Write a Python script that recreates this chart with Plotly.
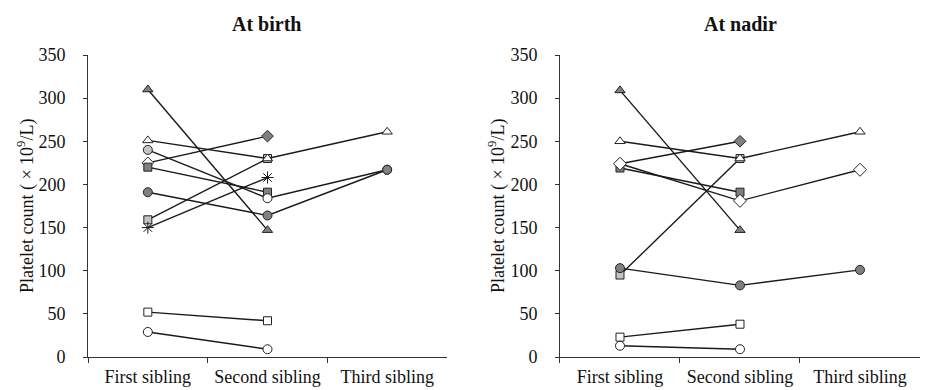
import plotly.graph_objects as go

categories = ["First sibling", "Second sibling", "Third sibling"]
y_ticks = [0, 50, 100, 150, 200, 250, 300, 350]

# ---- At birth (left panel) ----
birth_filled_triangle = [310, 147, None]
birth_hatched_square = [159, 230, None]
birth_open_triangle = [251, 230, 261]
birth_filled_diamond = [225, 256, None]
birth_filled_square = [220, 191, None]
birth_open_circle = [240, 184, 217]
birth_filled_circle = [191, 164, 217]
birth_asterisk = [150, 208, None]
birth_open_square = [52, 42, None]
birth_low_circle = [29, 9, None]

# ---- At nadir (right panel) ----
nadir_filled_triangle = [309, 147, None]
nadir_hatched_square = [95, 230, None]
nadir_open_triangle = [250, 230, 261]
nadir_filled_diamond = [224, 250, None]
nadir_filled_square = [219, 191, None]
nadir_open_diamond = [224, 181, 217]
nadir_filled_circle = [103, 83, 101]
nadir_open_square = [23, 38, None]
nadir_low_circle = [13, 9, None]

GREY = "#808080"
HATCH = "#c4c4c4"
WHITE = "#ffffff"
LINE = "#1a1a1a"

fig = go.Figure()


def add(vals, symbol, colors, size, xa, ya):
    fig.add_trace(go.Scatter(
        x=categories, y=vals, mode="lines+markers",
        line=dict(color=LINE, width=1.4),
        marker=dict(symbol=symbol, size=size, color=colors,
                    line=dict(color="#222222", width=1)),
        xaxis=xa, yaxis=ya, showlegend=False, cliponaxis=False,
    ))


# left
add(birth_filled_triangle, "triangle-up", GREY, 9, "x", "y")
add(birth_hatched_square, "square", HATCH, 8, "x", "y")
add(birth_open_triangle, "triangle-up", WHITE, 9, "x", "y")
add(birth_filled_diamond, "diamond", [WHITE, GREY, GREY], 9, "x", "y")
add(birth_filled_square, "square", GREY, 8, "x", "y")
add(birth_open_circle, "circle", [HATCH, WHITE, WHITE], 9, "x", "y")
add(birth_filled_circle, "circle", GREY, 9, "x", "y")
fig.add_trace(go.Scatter(
    x=categories, y=birth_asterisk, mode="lines+markers",
    line=dict(color=LINE, width=1.4),
    marker=dict(symbol="asterisk-open", size=10, line=dict(color="#222222", width=1)),
    xaxis="x", yaxis="y", showlegend=False, cliponaxis=False))
add(birth_open_square, "square", WHITE, 8, "x", "y")
add(birth_low_circle, "circle", WHITE, 9, "x", "y")

# right
add(nadir_filled_triangle, "triangle-up", GREY, 9, "x2", "y2")
add(nadir_hatched_square, "square", HATCH, 8, "x2", "y2")
add(nadir_open_triangle, "triangle-up", WHITE, 9, "x2", "y2")
add(nadir_filled_diamond, "diamond", [WHITE, GREY, GREY], 9, "x2", "y2")
add(nadir_filled_square, "square", GREY, 8, "x2", "y2")
add(nadir_open_diamond, "diamond", WHITE, 10, "x2", "y2")
add(nadir_filled_circle, "circle", GREY, 9, "x2", "y2")
add(nadir_open_square, "square", WHITE, 8, "x2", "y2")
add(nadir_low_circle, "circle", WHITE, 9, "x2", "y2")

FONT = '"Liberation Serif", "Times New Roman", serif'

xaxis_common = dict(
    type="category", range=[-0.5, 2.5], tickson="boundaries",
    ticks="outside", ticklen=5, tickcolor="#333", showline=True,
    linecolor="#333", linewidth=1, showgrid=False, zeroline=False,
    tickfont=dict(family=FONT, size=18, color="#111"), fixedrange=True,
    automargin=False, ticklabelstandoff=3,
)
yaxis_common = dict(
    range=[0, 350], tickvals=y_ticks, ticks="outside", ticklen=4,
    tickcolor="#333", showline=True, linecolor="#333", linewidth=1,
    showgrid=False, zeroline=False, ticklabelstandoff=14,
    tickfont=dict(family=FONT, size=18, color="#111"), automargin=False,
)

fig.update_layout(
    width=930, height=390,
    margin=dict(l=80, r=18, t=47, b=41, autoexpand=False),
    paper_bgcolor="white", plot_bgcolor="white",
    xaxis=dict(domain=[0, 0.4315], anchor="y", **xaxis_common),
    xaxis2=dict(domain=[0.5673, 1.0], anchor="y2", **xaxis_common),
    yaxis=dict(domain=[0, 1], anchor="x", **yaxis_common),
    yaxis2=dict(domain=[0, 1], anchor="x2", **yaxis_common),
    font=dict(family=FONT, color="#111"),
    annotations=[
        dict(text="<b>At birth</b>", x=0.2151, y=1.104, xref="paper", yref="paper",
             xanchor="center", yanchor="middle", showarrow=False,
             font=dict(family=FONT, size=20, color="#111")),
        dict(text="<b>At nadir</b>", x=0.7837, y=1.104, xref="paper", yref="paper",
             xanchor="center", yanchor="middle", showarrow=False,
             font=dict(family=FONT, size=20, color="#111")),
        dict(text="Platelet count ( × 10<sup>9</sup>/L)", x=-0.0745, y=0.5,
             xref="paper", yref="paper", xanchor="center", yanchor="middle",
             textangle=-90, showarrow=False,
             font=dict(family=FONT, size=18, color="#111")),
        dict(text="Platelet count ( × 10<sup>9</sup>/L)", x=0.4916, y=0.5,
             xref="paper", yref="paper", xanchor="center", yanchor="middle",
             textangle=-90, showarrow=False,
             font=dict(family=FONT, size=18, color="#111")),
    ],
)

fig.write_html("out.html")
